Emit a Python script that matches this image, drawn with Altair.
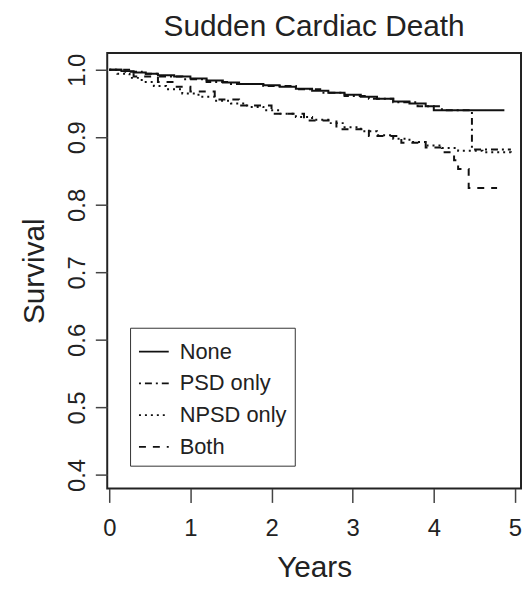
import altair as alt
import pandas as pd

# Kaplan-Meier step curves
none_t = [0, 0.15, 0.3, 0.45, 0.6, 0.8, 1.0, 1.2, 1.4, 1.6, 1.9, 2.1, 2.3, 2.5, 2.7, 2.9, 3.1, 3.3, 3.5, 3.7, 3.9, 4.0, 4.87]
none_s = [1.0, 0.998, 0.996, 0.994, 0.992, 0.990, 0.987, 0.984, 0.981, 0.979, 0.977, 0.975, 0.972, 0.969, 0.966, 0.963, 0.960, 0.957, 0.953, 0.950, 0.946, 0.940, 0.940]

psd_t = [0, 0.2, 0.4, 0.6, 0.9, 1.2, 1.5, 1.9, 2.3, 2.6, 2.9, 3.2, 3.5, 3.8, 4.1, 4.47, 4.95]
psd_s = [1.0, 0.997, 0.994, 0.990, 0.986, 0.982, 0.979, 0.976, 0.971, 0.966, 0.961, 0.957, 0.952, 0.946, 0.940, 0.882, 0.882]

npsd_t = [0, 0.1, 0.25, 0.4, 0.55, 0.7, 0.9, 1.1, 1.3, 1.5, 1.7, 1.9, 2.1, 2.3, 2.5, 2.7, 2.9, 3.1, 3.3, 3.5, 3.7, 3.9, 4.1, 4.3, 4.6, 4.95]
npsd_s = [1.0, 0.994, 0.988, 0.982, 0.976, 0.971, 0.965, 0.960, 0.954, 0.950, 0.945, 0.940, 0.935, 0.930, 0.926, 0.921, 0.915, 0.909, 0.903, 0.898, 0.893, 0.888, 0.884, 0.880, 0.878, 0.876]

both_t = [0, 0.3, 0.6, 0.8, 1.0, 1.3, 1.6, 2.0, 2.4, 2.8, 3.2, 3.6, 3.9, 4.1, 4.25, 4.3, 4.43, 4.78]
both_s = [1.0, 0.990, 0.982, 0.975, 0.968, 0.956, 0.947, 0.935, 0.925, 0.912, 0.902, 0.892, 0.885, 0.878, 0.866, 0.853, 0.825, 0.825]

groups = ["None", "PSD only", "NPSD only", "Both"]
x_ticks = [0, 1, 2, 3, 4, 5]
y_ticks = [0.4, 0.5, 0.6, 0.7, 0.8, 0.9, 1.0]

rows = []
for g, ts, ss in [("None", none_t, none_s), ("PSD only", psd_t, psd_s),
                  ("NPSD only", npsd_t, npsd_s), ("Both", both_t, both_s)]:
    for t, s in zip(ts, ss):
        rows.append({"group": g, "years": t, "survival": s})
df = pd.DataFrame(rows)

FONT = "Liberation Sans"

chart = alt.Chart(df).mark_line(interpolate="step-after", strokeWidth=2, color="#111", clip=True).encode(
    x=alt.X("years:Q", scale=alt.Scale(domain=[-0.025, 5.075], nice=False, zero=False),
            axis=alt.Axis(values=x_ticks, title="Years", format="d", grid=False, domain=False,
                          tickSize=14, tickColor="#444", tickWidth=1.5,
                          labelFontSize=24, labelPadding=14, labelColor="#222",
                          labelFont=FONT, titleFont=FONT, titleFontSize=30,
                          titleFontWeight="normal", titleColor="#222", titlePadding=13)),
    y=alt.Y("survival:Q", scale=alt.Scale(domain=[0.38, 1.025], nice=False, zero=False),
            axis=alt.Axis(values=y_ticks, title="Survival", format=".1f", grid=False, domain=False,
                          tickSize=12, tickColor="#444", tickWidth=1.5,
                          labelFontSize=24, labelPadding=6, labelColor="#222",
                          labelAngle=270, labelAlign="center", labelBaseline="bottom",
                          labelFont=FONT, titleFont=FONT, titleFontSize=30,
                          titleFontWeight="normal", titleColor="#222", titlePadding=16)),
    strokeDash=alt.StrokeDash("group:N",
                              scale=alt.Scale(domain=groups,
                                              range=[[1, 0], [2, 4, 7, 4], [2, 4], [7, 7]]),
                              legend=alt.Legend(title=None, orient="none", legendX=23, legendY=277,
                                                strokeColor="#333", padding=8,
                                                symbolType="stroke", symbolSize=900,
                                                symbolStrokeWidth=1.8, symbolStrokeColor="#111",
                                                labelFontSize=22, labelFont=FONT, labelColor="#222",
                                                labelOffset=10, rowPadding=5)),
).properties(
    width=417, height=439,
    title=alt.TitleParams("Sudden Cardiac Death", font=FONT, fontSize=30, fontWeight="normal",
                          color="#222", baseline="alphabetic", offset=14, dy=27, anchor="middle"),
    autosize=alt.AutoSizeParams(type="none"),
    padding={"left": 100, "top": 43, "right": 2, "bottom": 94},
).configure_view(stroke="#222", strokeWidth=2)

chart.save("out.html", embed_options={"renderer": "svg", "actions": False})
